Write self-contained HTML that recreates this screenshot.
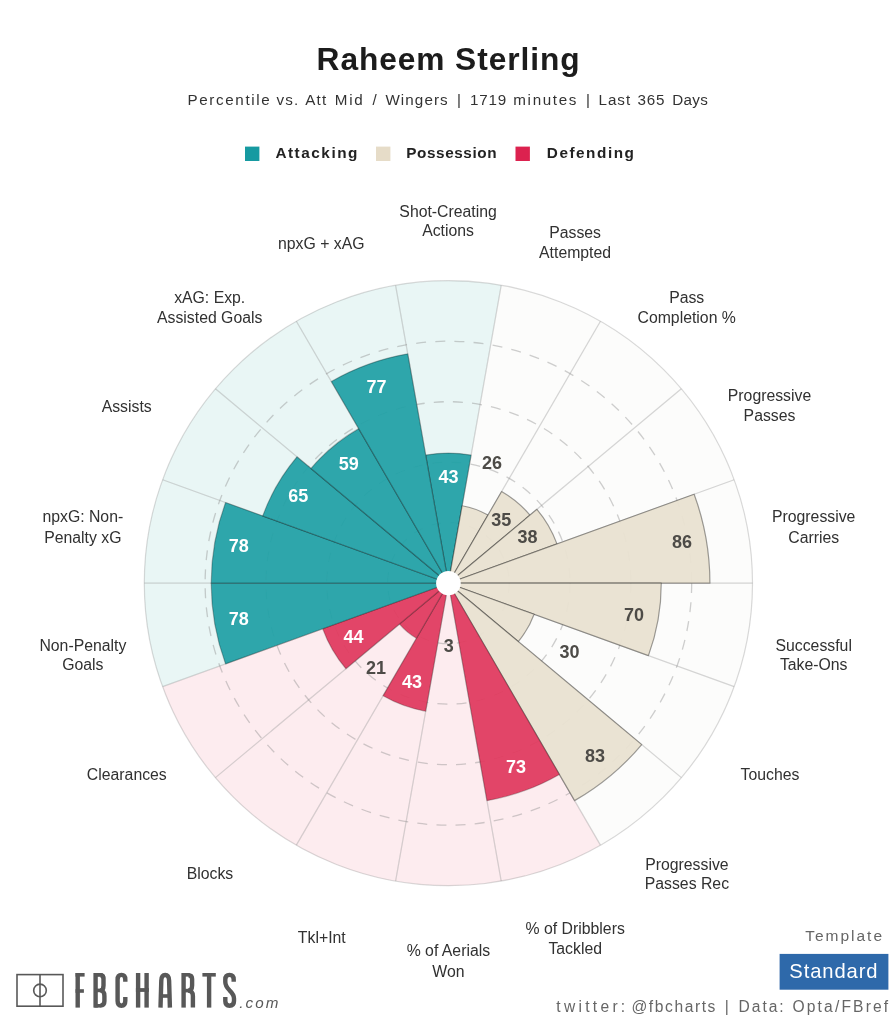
<!DOCTYPE html>
<html><head><meta charset="utf-8"><title>Raheem Sterling</title>
<style>html,body{margin:0;padding:0;background:#fff}body{width:896px;height:1024px;overflow:hidden}svg{display:block}text{font-family:"Liberation Sans",sans-serif}</style>
</head><body>
<svg width="896" height="1024" viewBox="0 0 896 1024">
<rect width="896" height="1024" fill="#ffffff"/>
<defs><filter id="soft" x="0" y="0" width="896" height="1024" filterUnits="userSpaceOnUse"><feGaussianBlur stdDeviation="0.45"/></filter></defs>
<g filter="url(#soft)">
<text x="316.6" y="69.8" font-size="31.7" font-weight="bold" fill="#1a1a1a" letter-spacing="0.92">Raheem Sterling</text>
<text x="187.4" y="105.1" font-size="15.2" fill="#333333" textLength="82.4" lengthAdjust="spacing">Percentile</text>
<text x="276.6" y="105.1" font-size="15.2" fill="#333333" textLength="21.6" lengthAdjust="spacing">vs.</text>
<text x="305.3" y="105.1" font-size="15.2" fill="#333333" textLength="20.9" lengthAdjust="spacing">Att</text>
<text x="334.8" y="105.1" font-size="15.2" fill="#333333" textLength="27.9" lengthAdjust="spacing">Mid</text>
<text x="374.6" y="105.1" font-size="15.2" fill="#333333" text-anchor="middle">/</text>
<text x="385.4" y="105.1" font-size="15.2" fill="#333333" textLength="62.3" lengthAdjust="spacing">Wingers</text>
<text x="459.0" y="105.1" font-size="15.2" fill="#333333" text-anchor="middle">|</text>
<text x="469.9" y="105.1" font-size="15.2" fill="#333333" textLength="36.3" lengthAdjust="spacing">1719</text>
<text x="513.3" y="105.1" font-size="15.2" fill="#333333" textLength="63.1" lengthAdjust="spacing">minutes</text>
<text x="588.0" y="105.1" font-size="15.2" fill="#333333" text-anchor="middle">|</text>
<text x="598.4" y="105.1" font-size="15.2" fill="#333333" textLength="31.8" lengthAdjust="spacing">Last</text>
<text x="637.4" y="105.1" font-size="15.2" fill="#333333" textLength="27.0" lengthAdjust="spacing">365</text>
<text x="672.2" y="105.1" font-size="15.2" fill="#333333" textLength="35.6" lengthAdjust="spacing">Days</text>
<rect x="245" y="146.6" width="14.4" height="14.4" fill="#149aa1"/>
<text x="275.4" y="158" font-size="15.3" font-weight="bold" fill="#222" textLength="82" lengthAdjust="spacing">Attacking</text>
<rect x="376" y="146.6" width="14.4" height="14.4" fill="#e6dcc8"/>
<text x="406.2" y="158" font-size="15.3" font-weight="bold" fill="#222" textLength="90.4" lengthAdjust="spacing">Possession</text>
<rect x="515.5" y="146.6" width="14.4" height="14.4" fill="#dc2450"/>
<text x="546.8" y="158" font-size="15.3" font-weight="bold" fill="#222" textLength="87.1" lengthAdjust="spacing">Defending</text>
<g transform="translate(448.4,583.2) scale(1,0.99474)">
<path d="M0,0L-52.81,-299.48A304.10,304.10 0 0 1 52.81,-299.48Z" fill="#e9f6f5"/>
<path d="M0,0L52.81,-299.48A304.10,304.10 0 0 1 152.05,-263.36Z" fill="#fcfcfb"/>
<path d="M0,0L152.05,-263.36A304.10,304.10 0 0 1 232.95,-195.47Z" fill="#fcfcfb"/>
<path d="M0,0L232.95,-195.47A304.10,304.10 0 0 1 285.76,-104.01Z" fill="#fcfcfb"/>
<path d="M0,0L285.76,-104.01A304.10,304.10 0 0 1 304.10,-0.00Z" fill="#fcfcfb"/>
<path d="M0,0L304.10,-0.00A304.10,304.10 0 0 1 285.76,104.01Z" fill="#fcfcfb"/>
<path d="M0,0L285.76,104.01A304.10,304.10 0 0 1 232.95,195.47Z" fill="#fcfcfb"/>
<path d="M0,0L232.95,195.47A304.10,304.10 0 0 1 152.05,263.36Z" fill="#fcfcfb"/>
<path d="M0,0L152.05,263.36A304.10,304.10 0 0 1 52.81,299.48Z" fill="#fdecef"/>
<path d="M0,0L52.81,299.48A304.10,304.10 0 0 1 -52.81,299.48Z" fill="#fdecef"/>
<path d="M0,0L-52.81,299.48A304.10,304.10 0 0 1 -152.05,263.36Z" fill="#fdecef"/>
<path d="M0,0L-152.05,263.36A304.10,304.10 0 0 1 -232.95,195.47Z" fill="#fdecef"/>
<path d="M0,0L-232.95,195.47A304.10,304.10 0 0 1 -285.76,104.01Z" fill="#fdecef"/>
<path d="M0,0L-285.76,104.01A304.10,304.10 0 0 1 -304.10,0.00Z" fill="#e9f6f5"/>
<path d="M0,0L-304.10,0.00A304.10,304.10 0 0 1 -285.76,-104.01Z" fill="#e9f6f5"/>
<path d="M0,0L-285.76,-104.01A304.10,304.10 0 0 1 -232.95,-195.47Z" fill="#e9f6f5"/>
<path d="M0,0L-232.95,-195.47A304.10,304.10 0 0 1 -152.05,-263.36Z" fill="#e9f6f5"/>
<path d="M0,0L-152.05,-263.36A304.10,304.10 0 0 1 -52.81,-299.48Z" fill="#e9f6f5"/>
<line x1="0" y1="0" x2="-52.81" y2="-299.48" stroke="#808080" stroke-opacity="0.32" stroke-width="1.25"/>
<line x1="0" y1="0" x2="52.81" y2="-299.48" stroke="#808080" stroke-opacity="0.32" stroke-width="1.25"/>
<line x1="0" y1="0" x2="152.05" y2="-263.36" stroke="#808080" stroke-opacity="0.32" stroke-width="1.25"/>
<line x1="0" y1="0" x2="232.95" y2="-195.47" stroke="#808080" stroke-opacity="0.32" stroke-width="1.25"/>
<line x1="0" y1="0" x2="285.76" y2="-104.01" stroke="#808080" stroke-opacity="0.32" stroke-width="1.25"/>
<line x1="0" y1="0" x2="304.10" y2="-0.00" stroke="#808080" stroke-opacity="0.32" stroke-width="1.25"/>
<line x1="0" y1="0" x2="285.76" y2="104.01" stroke="#808080" stroke-opacity="0.32" stroke-width="1.25"/>
<line x1="0" y1="0" x2="232.95" y2="195.47" stroke="#808080" stroke-opacity="0.32" stroke-width="1.25"/>
<line x1="0" y1="0" x2="152.05" y2="263.36" stroke="#808080" stroke-opacity="0.32" stroke-width="1.25"/>
<line x1="0" y1="0" x2="52.81" y2="299.48" stroke="#808080" stroke-opacity="0.32" stroke-width="1.25"/>
<line x1="0" y1="0" x2="-52.81" y2="299.48" stroke="#808080" stroke-opacity="0.32" stroke-width="1.25"/>
<line x1="0" y1="0" x2="-152.05" y2="263.36" stroke="#808080" stroke-opacity="0.32" stroke-width="1.25"/>
<line x1="0" y1="0" x2="-232.95" y2="195.47" stroke="#808080" stroke-opacity="0.32" stroke-width="1.25"/>
<line x1="0" y1="0" x2="-285.76" y2="104.01" stroke="#808080" stroke-opacity="0.32" stroke-width="1.25"/>
<line x1="0" y1="0" x2="-304.10" y2="0.00" stroke="#808080" stroke-opacity="0.32" stroke-width="1.25"/>
<line x1="0" y1="0" x2="-285.76" y2="-104.01" stroke="#808080" stroke-opacity="0.32" stroke-width="1.25"/>
<line x1="0" y1="0" x2="-232.95" y2="-195.47" stroke="#808080" stroke-opacity="0.32" stroke-width="1.25"/>
<line x1="0" y1="0" x2="-152.05" y2="-263.36" stroke="#808080" stroke-opacity="0.32" stroke-width="1.25"/>
<circle r="304.1" fill="none" stroke="#808080" stroke-opacity="0.3" stroke-width="1.2"/>
<circle r="60.82" fill="none" stroke="#8c8c8c" stroke-opacity="0.42" stroke-width="1.3" stroke-dasharray="10,9.2"/>
<circle r="121.64" fill="none" stroke="#8c8c8c" stroke-opacity="0.42" stroke-width="1.3" stroke-dasharray="10,9.2"/>
<circle r="182.46" fill="none" stroke="#8c8c8c" stroke-opacity="0.42" stroke-width="1.3" stroke-dasharray="10,9.2"/>
<circle r="243.28" fill="none" stroke="#8c8c8c" stroke-opacity="0.42" stroke-width="1.3" stroke-dasharray="10,9.2"/>
<path d="M0,0L-22.71,-128.78A130.76,130.76 0 0 1 22.71,-128.78Z" fill="#24a1a6" fill-opacity="0.95" stroke="#000000" stroke-opacity="0.27" stroke-width="1.2" stroke-linejoin="round"/>
<path d="M0,0L13.73,-77.86A79.07,79.07 0 0 1 39.53,-68.47Z" fill="#e9e2d1" fill-opacity="0.95" stroke="#000000" stroke-opacity="0.37" stroke-width="1.2" stroke-linejoin="round"/>
<path d="M0,0L53.22,-92.18A106.44,106.44 0 0 1 81.53,-68.42Z" fill="#e9e2d1" fill-opacity="0.95" stroke="#000000" stroke-opacity="0.37" stroke-width="1.2" stroke-linejoin="round"/>
<path d="M0,0L88.52,-74.28A115.56,115.56 0 0 1 108.59,-39.52Z" fill="#e9e2d1" fill-opacity="0.95" stroke="#000000" stroke-opacity="0.37" stroke-width="1.2" stroke-linejoin="round"/>
<path d="M0,0L245.75,-89.45A261.53,261.53 0 0 1 261.53,-0.00Z" fill="#e9e2d1" fill-opacity="0.95" stroke="#000000" stroke-opacity="0.37" stroke-width="1.2" stroke-linejoin="round"/>
<path d="M0,0L212.87,-0.00A212.87,212.87 0 0 1 200.03,72.81Z" fill="#e9e2d1" fill-opacity="0.95" stroke="#000000" stroke-opacity="0.37" stroke-width="1.2" stroke-linejoin="round"/>
<path d="M0,0L85.73,31.20A91.23,91.23 0 0 1 69.89,58.64Z" fill="#e9e2d1" fill-opacity="0.95" stroke="#000000" stroke-opacity="0.37" stroke-width="1.2" stroke-linejoin="round"/>
<path d="M0,0L193.35,162.24A252.40,252.40 0 0 1 126.20,218.59Z" fill="#e9e2d1" fill-opacity="0.95" stroke="#000000" stroke-opacity="0.37" stroke-width="1.2" stroke-linejoin="round"/>
<path d="M0,0L111.00,192.25A221.99,221.99 0 0 1 38.55,218.62Z" fill="#e03c60" fill-opacity="0.95" stroke="#000000" stroke-opacity="0.23" stroke-width="1.2" stroke-linejoin="round"/>
<path d="M0,0L1.58,8.98A9.12,9.12 0 0 1 -1.58,8.98Z" fill="#e03c60" fill-opacity="0.95" stroke="#000000" stroke-opacity="0.23" stroke-width="1.2" stroke-linejoin="round"/>
<path d="M0,0L-22.71,128.78A130.76,130.76 0 0 1 -65.38,113.24Z" fill="#e03c60" fill-opacity="0.95" stroke="#000000" stroke-opacity="0.23" stroke-width="1.2" stroke-linejoin="round"/>
<path d="M0,0L-31.93,55.31A63.86,63.86 0 0 1 -48.92,41.05Z" fill="#e03c60" fill-opacity="0.95" stroke="#000000" stroke-opacity="0.23" stroke-width="1.2" stroke-linejoin="round"/>
<path d="M0,0L-102.50,86.01A133.80,133.80 0 0 1 -125.73,45.76Z" fill="#e03c60" fill-opacity="0.95" stroke="#000000" stroke-opacity="0.23" stroke-width="1.2" stroke-linejoin="round"/>
<path d="M0,0L-222.89,81.13A237.20,237.20 0 0 1 -237.20,0.00Z" fill="#24a1a6" fill-opacity="0.95" stroke="#000000" stroke-opacity="0.27" stroke-width="1.2" stroke-linejoin="round"/>
<path d="M0,0L-237.20,0.00A237.20,237.20 0 0 1 -222.89,-81.13Z" fill="#24a1a6" fill-opacity="0.95" stroke="#000000" stroke-opacity="0.27" stroke-width="1.2" stroke-linejoin="round"/>
<path d="M0,0L-185.74,-67.61A197.66,197.66 0 0 1 -151.42,-127.06Z" fill="#24a1a6" fill-opacity="0.95" stroke="#000000" stroke-opacity="0.27" stroke-width="1.2" stroke-linejoin="round"/>
<path d="M0,0L-137.44,-115.33A179.42,179.42 0 0 1 -89.71,-155.38Z" fill="#24a1a6" fill-opacity="0.95" stroke="#000000" stroke-opacity="0.27" stroke-width="1.2" stroke-linejoin="round"/>
<path d="M0,0L-117.08,-202.79A234.16,234.16 0 0 1 -40.66,-230.60Z" fill="#24a1a6" fill-opacity="0.95" stroke="#000000" stroke-opacity="0.27" stroke-width="1.2" stroke-linejoin="round"/>
<circle r="12.3" fill="#ffffff"/>
</g>
<text x="448.4" y="482.7" text-anchor="middle" font-size="18" font-weight="bold" fill="#ffffff">43</text>
<text x="492.1" y="469.2" text-anchor="middle" font-size="18" font-weight="bold" fill="#4d4b47">26</text>
<text x="501.2" y="526.0" text-anchor="middle" font-size="18" font-weight="bold" fill="#4d4b47">35</text>
<text x="527.4" y="543.2" text-anchor="middle" font-size="18" font-weight="bold" fill="#4d4b47">38</text>
<text x="682.0" y="547.6" text-anchor="middle" font-size="18" font-weight="bold" fill="#4d4b47">86</text>
<text x="634.1" y="621.2" text-anchor="middle" font-size="18" font-weight="bold" fill="#4d4b47">70</text>
<text x="569.5" y="658.2" text-anchor="middle" font-size="18" font-weight="bold" fill="#4d4b47">30</text>
<text x="595.0" y="762.4" text-anchor="middle" font-size="18" font-weight="bold" fill="#4d4b47">83</text>
<text x="516.0" y="773.4" text-anchor="middle" font-size="18" font-weight="bold" fill="#ffffff">73</text>
<text x="448.8" y="651.9" text-anchor="middle" font-size="18" font-weight="bold" fill="#4d4b47">3</text>
<text x="412.0" y="688.1" text-anchor="middle" font-size="18" font-weight="bold" fill="#ffffff">43</text>
<text x="376.1" y="674.3" text-anchor="middle" font-size="18" font-weight="bold" fill="#4d4b47">21</text>
<text x="353.6" y="643.1" text-anchor="middle" font-size="18" font-weight="bold" fill="#ffffff">44</text>
<text x="238.8" y="625.4" text-anchor="middle" font-size="18" font-weight="bold" fill="#ffffff">78</text>
<text x="238.8" y="551.8" text-anchor="middle" font-size="18" font-weight="bold" fill="#ffffff">78</text>
<text x="298.3" y="502.4" text-anchor="middle" font-size="18" font-weight="bold" fill="#ffffff">65</text>
<text x="348.7" y="470.4" text-anchor="middle" font-size="18" font-weight="bold" fill="#ffffff">59</text>
<text x="376.6" y="392.5" text-anchor="middle" font-size="18" font-weight="bold" fill="#ffffff">77</text>
<text x="448.1" y="217.2" text-anchor="middle" font-size="15.8" fill="#303030">Shot-Creating</text>
<text x="448.1" y="235.6" text-anchor="middle" font-size="15.8" fill="#303030">Actions</text>
<text x="575.1" y="237.5" text-anchor="middle" font-size="15.8" fill="#303030">Passes</text>
<text x="575.1" y="258.1" text-anchor="middle" font-size="15.8" fill="#303030">Attempted</text>
<text x="686.7" y="302.9" text-anchor="middle" font-size="15.8" fill="#303030">Pass</text>
<text x="686.7" y="322.8" text-anchor="middle" font-size="15.8" fill="#303030">Completion %</text>
<text x="769.5" y="401.0" text-anchor="middle" font-size="15.8" fill="#303030">Progressive</text>
<text x="769.5" y="420.9" text-anchor="middle" font-size="15.8" fill="#303030">Passes</text>
<text x="813.7" y="522.0" text-anchor="middle" font-size="15.8" fill="#303030">Progressive</text>
<text x="813.7" y="542.5" text-anchor="middle" font-size="15.8" fill="#303030">Carries</text>
<text x="813.7" y="650.5" text-anchor="middle" font-size="15.8" fill="#303030">Successful</text>
<text x="813.7" y="670.0" text-anchor="middle" font-size="15.8" fill="#303030">Take-Ons</text>
<text x="770.0" y="780.0" text-anchor="middle" font-size="15.8" fill="#303030">Touches</text>
<text x="686.9" y="870.0" text-anchor="middle" font-size="15.8" fill="#303030">Progressive</text>
<text x="686.9" y="889.2" text-anchor="middle" font-size="15.8" fill="#303030">Passes Rec</text>
<text x="575.2" y="933.6" text-anchor="middle" font-size="15.8" fill="#303030">% of Dribblers</text>
<text x="575.2" y="954.3" text-anchor="middle" font-size="15.8" fill="#303030">Tackled</text>
<text x="448.4" y="956.1" text-anchor="middle" font-size="15.8" fill="#303030">% of Aerials</text>
<text x="448.4" y="976.8" text-anchor="middle" font-size="15.8" fill="#303030">Won</text>
<text x="321.8" y="942.5" text-anchor="middle" font-size="15.8" fill="#303030">Tkl+Int</text>
<text x="210.0" y="878.9" text-anchor="middle" font-size="15.8" fill="#303030">Blocks</text>
<text x="126.8" y="780.0" text-anchor="middle" font-size="15.8" fill="#303030">Clearances</text>
<text x="82.9" y="650.6" text-anchor="middle" font-size="15.8" fill="#303030">Non-Penalty</text>
<text x="82.9" y="669.7" text-anchor="middle" font-size="15.8" fill="#303030">Goals</text>
<text x="82.8" y="522.0" text-anchor="middle" font-size="15.8" fill="#303030">npxG: Non-</text>
<text x="82.8" y="542.6" text-anchor="middle" font-size="15.8" fill="#303030">Penalty xG</text>
<text x="126.7" y="412.0" text-anchor="middle" font-size="15.8" fill="#303030">Assists</text>
<text x="209.7" y="303.0" text-anchor="middle" font-size="15.8" fill="#303030">xAG: Exp.</text>
<text x="209.7" y="322.6" text-anchor="middle" font-size="15.8" fill="#303030">Assisted Goals</text>
<text x="321.3" y="248.9" text-anchor="middle" font-size="15.8" fill="#303030">npxG + xAG</text>
<g fill="none" stroke="#585858" stroke-width="1.6"><rect x="17" y="974.6" width="46" height="31.6"/><line x1="40" y1="974.6" x2="40" y2="1006.2"/><circle cx="40" cy="990.4" r="6.3"/></g>
<g id="logo" fill="#585858" stroke="#585858" stroke-width="0">
<rect x="75.50" y="973.00" width="4.40" height="34.60"/>
<rect x="75.50" y="973.00" width="9.10" height="3.60"/>
<rect x="75.50" y="989.20" width="8.40" height="3.60"/>
<rect x="93.40" y="973.00" width="4.40" height="34.60"/>
<path fill="none" stroke-width="3.6" d="M94.4,974.8 H100.60000000000001 Q103.60000000000001,974.8 103.60000000000001,978.5" />
<path fill="none" stroke-width="4.4" d="M100.4,975.1999999999999 Q103.5,975.1999999999999 103.5,979.0 V985.5 Q103.5,990.4 99.9,990.4 Q104.4,990.4 104.4,996 V1001.2 Q104.4,1005.4000000000001 100.4,1005.4000000000001"/>
<rect x="94.40" y="973.00" width="7.00" height="3.60"/>
<rect x="94.40" y="1004.00" width="7.00" height="3.60"/>
<rect x="94.40" y="988.60" width="6.00" height="3.60"/>
<path fill="none" stroke-width="4.4" d="M125.3,981.8 V979.5 Q125.3,974.9000000000001 121.45,974.9000000000001 Q117.60000000000001,974.9000000000001 117.60000000000001,979.5 V1001.1 Q117.60000000000001,1005.6999999999999 121.45,1005.6999999999999 Q125.3,1005.6999999999999 125.3,1001.1 V997"/>
<rect x="135.90" y="973.00" width="4.40" height="34.60"/>
<rect x="144.40" y="973.00" width="4.40" height="34.60"/>
<rect x="135.90" y="988.10" width="12.90" height="3.80"/>
<path fill="none" stroke-width="4.4" d="M160.5,1007.6 L161.29999999999998,980.5 Q161.5,975.0 165.2,975.0 Q168.9,975.0 169.10000000000002,980.5 L169.9,1007.6"/>
<rect x="160.70" y="994.20" width="9.00" height="3.60"/>
<rect x="181.40" y="973.00" width="4.40" height="34.60"/>
<path fill="none" stroke-width="4.4" d="M188.4,975.1999999999999 Q192.1,975.1999999999999 192.1,979.0 V985.5 Q192.1,990.6 187.9,990.6 Q192.9,990.6 192.9,996 V1007.6"/>
<rect x="182.40" y="973.00" width="7.40" height="3.60"/>
<rect x="182.40" y="988.80" width="6.60" height="3.60"/>
<rect x="202.40" y="973.00" width="13.40" height="3.60"/>
<rect x="206.90" y="973.00" width="4.40" height="34.60"/>
<path fill="none" stroke-width="4.4" d="M233.70000000000002,981.8 V979.5 Q233.70000000000002,974.9000000000001 229.5,974.9000000000001 Q225.29999999999998,974.9000000000001 225.29999999999998,979.5 V982 Q225.29999999999998,986 229.5,990.3 Q234.00000000000003,994.5 234.00000000000003,998.5 V1001.1 Q234.00000000000003,1005.6999999999999 229.5,1005.6999999999999 Q225.29999999999998,1005.6999999999999 225.29999999999998,1001.1 V997"/>
</g>
<text x="239.3" y="1007.8" font-size="15.2" font-style="italic" fill="#585858" textLength="39.2" lengthAdjust="spacing">.com</text>
<text x="805.2" y="940.7" font-size="15.5" fill="#666" textLength="76.8" lengthAdjust="spacing">Template</text>
<rect x="779.6" y="953.9" width="108.8" height="35.8" fill="#2e69aa"/>
<text x="789.3" y="977.9" font-size="20.2" fill="#fff" textLength="88.2" lengthAdjust="spacing">Standard</text>
<text x="556.3" y="1011.5" font-size="15.6" fill="#666666" textLength="68.9" lengthAdjust="spacing">twitter:</text>
<text x="631.4" y="1011.5" font-size="15.6" fill="#666666" textLength="84.0" lengthAdjust="spacing">@fbcharts</text>
<text x="726.7" y="1011.5" font-size="15.6" fill="#666666" text-anchor="middle">|</text>
<text x="738.6" y="1011.5" font-size="15.6" fill="#666666" textLength="45.0" lengthAdjust="spacing">Data:</text>
<text x="792.4" y="1011.5" font-size="15.6" fill="#666666" textLength="95.8" lengthAdjust="spacing">Opta/FBref</text>
</g>
</svg></body></html>
